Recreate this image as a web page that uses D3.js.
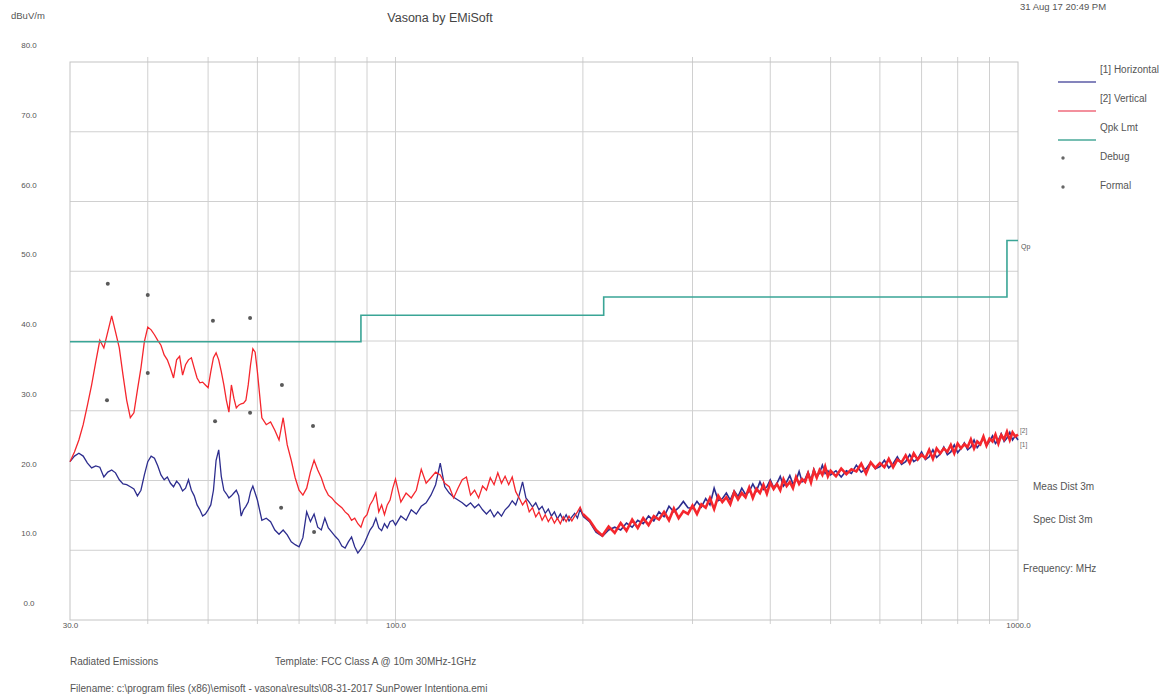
<!DOCTYPE html>
<html>
<head>
<meta charset="utf-8">
<script src="https://cdn.jsdelivr.net/npm/d3@7"></script>
<style>
body { margin: 0; background: #fff; }
text { font-family: "Liberation Sans", Arial, sans-serif; }
</style>
</head>
<body>
<div id="chart"></div>
<script>
// sweep points in MHz, shared by both antenna polarisations
var freqs = [
    30, 30.5, 31, 31.5, 32, 32.5, 33, 33.5, 34, 34.5, 35, 35.5, 36, 36.5, 37, 37.5, 38, 38.5, 39, 39.5, 40,
    40.5, 41, 41.5, 42, 42.5, 43, 43.5, 44, 44.5, 45, 45.5, 46, 46.5, 47, 47.5, 48, 48.5, 49, 49.5, 50,
    50.5, 51, 51.5, 52, 52.5, 53, 53.5, 54, 54.5, 55, 55.5, 56, 56.5, 57, 57.5, 58, 58.5, 59, 59.5, 60,
    61, 62, 63, 64, 65, 66, 67, 68, 69, 70, 71, 72, 73, 74, 75, 76, 77, 78, 79, 80,
    81, 82, 83, 84, 85, 86, 87, 88, 89, 90, 91, 92, 93, 94, 95, 96, 97, 98, 99, 100,
    102, 104, 106, 108, 110, 112, 114, 116, 118, 120, 122, 124, 126, 128, 130, 132, 134, 136, 138, 140,
    142, 144, 146, 148, 150, 152, 154, 156, 158, 160, 162, 164, 166, 168, 170, 172, 174, 176, 178, 180,
    182, 184, 186, 188, 190, 192, 194, 196, 198, 200,
    205, 210, 215, 220, 225, 230, 235, 240, 245, 250, 255, 260, 265, 270, 275, 280, 285, 290, 295, 300,
    305, 310, 315, 320, 325, 330, 335, 340, 345, 350, 355, 360, 365, 370, 375, 380, 385, 390, 395, 400,
    405, 410, 415, 420, 425, 430, 435, 440, 445, 450, 455, 460, 465, 470, 475, 480, 485, 490, 495, 500,
    510, 520, 530, 540, 550, 560, 570, 580, 590, 600, 610, 620, 630, 640, 650, 660, 670, 680, 690, 700,
    710, 720, 730, 740, 750, 760, 770, 780, 790, 800, 810, 820, 830, 840, 850, 860, 870, 880, 890, 900,
    910, 920, 930, 940, 950, 960, 970, 980, 990, 1000
];

// [1] Horizontal, dBuV/m
var horizontal = [
    22.7, 23.5, 23.9, 23.5, 22.5, 21.8, 22.1, 21.9, 20.5, 21.2, 21.5, 21.1, 20.1, 19.5, 19.4, 19.1, 18.8, 17.8, 18.6, 20.8, 22.7,
    23.5, 23.2, 22.1, 20.8, 20.1, 20.5, 19.6, 19.1, 19.9, 19.4, 18.5, 18.9, 20.1, 18.6, 17.8, 16.5, 15.8, 14.9, 15.2, 15.8,
    16.5, 18.6, 22.9, 24.4, 20.6, 18.6, 18.1, 17.5, 17.8, 18.2, 18.6, 17.8, 14.9, 15.8, 16.3, 16.9, 18.4, 19.2, 18.2, 17.2,
    14.3, 14.6, 14.1, 12.9, 12.3, 12.9, 12.2, 11.2, 10.8, 10.5, 11.8, 15.5, 14.1, 15.2, 13.3, 12.9, 14.6, 13.2, 12.6, 12.0,
    11.5, 10.6, 10.3, 11.2, 11.9, 10.5, 9.6, 10.2, 10.9, 11.9, 12.9, 13.5, 14.6, 13.2, 12.8, 13.8, 13.2, 14.1, 14.3, 13.6,
    14.9, 14.3, 15.8, 15.2, 16.3, 16.8, 17.9, 19.4, 22.5, 19.1, 18.2, 17.6, 17.2, 16.8, 16.3, 16.8, 16.1, 16.6, 15.8, 15.2,
    15.8, 14.8, 15.5, 14.9, 15.8, 16.3, 17.1, 16.5, 17.9, 19.8, 17.5, 16.9, 16.2, 16.8, 15.8, 16.3, 15.3, 15.9, 14.9, 15.5,
    14.5, 15.2, 14.3, 15.1, 14.2, 14.8, 15.3, 14.6, 15.9, 14.9,
    14.1, 12.6, 12.0, 12.9, 13.3, 12.9, 13.9, 13.3, 14.3, 13.8, 14.9, 14.2, 15.5, 14.8, 16.3, 15.5, 16.1, 17.0, 16.1, 16.0,
    17.0, 16.2, 17.4, 16.5, 18.9, 17.1, 17.4, 18.2, 17.2, 18.5, 17.7, 18.9, 18.0, 18.4, 19.5, 18.5, 19.8, 18.7, 19.1, 20.1,
    19.0, 19.6, 20.6, 19.2, 19.8, 20.7, 19.5, 20.0, 21.3, 19.8, 20.2, 21.2, 20.1, 21.6, 20.5, 21.1, 22.2, 21.0, 21.4, 20.8,
    21.4, 20.5, 21.4, 21.0, 22.2, 21.2, 21.7, 22.6, 21.7, 22.0, 22.9, 21.8, 22.4, 23.4, 22.3, 22.7, 23.7, 22.7, 23.1, 24.1,
    23.0, 23.4, 24.4, 23.3, 23.8, 24.8, 23.7, 24.1, 25.1, 24.0, 24.6, 25.4, 24.4, 24.8, 25.8, 24.7, 25.3, 26.1, 25.0, 25.6,
    26.4, 25.3, 25.8, 26.7, 25.6, 26.1, 26.9, 25.8, 26.4, 25.8
];

// [2] Vertical, dBuV/m
var vertical = [
    22.7, 24.1, 25.8, 28.0, 30.8, 33.7, 37.0, 40.1, 39.0, 41.3, 43.6, 41.3, 39.0, 35.1, 31.5, 29.0, 29.7, 33.0, 36.1, 39.9, 42.0,
    41.6, 40.9, 40.1, 39.4, 38.0, 37.3, 36.1, 34.7, 37.3, 37.8, 35.1, 36.6, 37.3, 37.6, 36.1, 34.7, 34.0, 34.1, 33.7, 33.3,
    35.6, 37.6, 38.3, 37.3, 35.6, 33.7, 31.5, 29.8, 33.7, 31.8, 30.4, 30.8, 31.0, 31.1, 31.5, 33.7, 36.6, 38.9, 38.4, 35.6,
    29.0, 28.0, 28.4, 27.2, 25.8, 29.0, 25.1, 22.9, 20.4, 18.6, 17.9, 18.9, 21.2, 22.9, 21.5, 20.4, 18.9, 17.9, 17.5, 16.9,
    16.5, 16.1, 15.5, 15.1, 14.3, 14.6, 13.8, 13.3, 14.6, 15.1, 16.5, 17.2, 18.2, 15.5, 16.5, 15.1, 16.5, 17.2, 18.9, 20.2,
    16.9, 18.2, 17.5, 18.6, 21.6, 19.6, 20.4, 21.2, 20.8, 19.6, 19.1, 17.5, 18.9, 20.1, 20.5, 17.9, 18.6, 17.5, 19.2, 18.6,
    20.4, 19.4, 21.1, 19.6, 20.6, 19.4, 20.5, 18.4, 17.5, 16.5, 17.2, 15.5, 16.1, 14.8, 15.5, 14.3, 15.1, 14.1, 14.8, 13.9,
    14.6, 13.8, 14.8, 14.1, 14.9, 14.2, 14.9, 15.5, 16.2, 15.2,
    14.3, 12.9, 12.1, 13.4, 12.5, 13.9, 12.8, 14.4, 13.2, 14.6, 13.6, 14.9, 14.4, 15.5, 14.3, 16.0, 14.6, 15.6, 15.2, 16.4,
    15.2, 16.6, 16.1, 17.5, 15.9, 17.8, 16.9, 17.6, 16.6, 18.3, 17.3, 18.2, 17.6, 19.0, 17.5, 18.8, 18.2, 19.4, 18.1, 19.7,
    18.8, 19.5, 18.6, 20.2, 19.2, 19.8, 18.9, 20.5, 19.5, 20.2, 19.8, 21.0, 19.7, 21.4, 20.4, 21.5, 20.8, 22.0, 20.6, 21.4,
    20.6, 21.7, 20.9, 21.6, 21.3, 22.4, 21.0, 22.6, 21.8, 22.5, 21.9, 23.1, 21.9, 23.0, 22.6, 23.6, 22.5, 23.9, 23.0, 23.7,
    23.2, 24.4, 23.1, 24.6, 23.9, 24.6, 24.1, 25.1, 23.9, 25.3, 24.6, 25.2, 24.8, 25.9, 24.6, 25.6, 25.2, 26.3, 25.0, 26.0,
    25.6, 26.6, 25.3, 26.5, 25.9, 27.0, 25.8, 26.9, 26.3, 26.6
];

// Qpk limit, step starts
var limitEdges = [30, 88, 216, 960, 1000];
var limitLevels = [39.9, 43.7, 46.3, 54.4, 54.4];

var debugFreqs = [34.5, 40.0, 50.9, 58.4, 65.7, 73.7];
var debugLevels = [48.2, 46.6, 42.9, 43.3, 33.7, 27.8];
var formalFreqs = [34.4, 40.0, 51.3, 58.4, 65.5, 74.0];
var formalLevels = [31.5, 35.4, 28.5, 29.7, 16.1, 12.6];

var yTicks = [0, 10, 20, 30, 40, 50, 60, 70, 80];
var xLabels = [30, 100, 1000];
var xGrid = [40, 50, 60, 70, 80, 90, 100, 200, 300, 400, 500, 600, 700, 800, 900];

var svgWidth = 1168;
var svgHeight = 696;

var margin = {
    top: 62,
    right: 150,
    bottom: 76,
    left: 70
};

var width = svgWidth - margin.left - margin.right;
var height = svgHeight - margin.top - margin.bottom;

var svg = d3.select("#chart")
    .append("svg")
    .attr("width", svgWidth)
    .attr("height", svgHeight)
    .style("background", "#fff");

var chartGroup = svg.append("g")
    .attr("transform", `translate(${margin.left}, ${margin.top})`);

var xLogScale = d3.scaleLog()
    .domain([30, 1000])
    .range([0, width]);

var yLinearScale = d3.scaleLinear()
    .domain([0, 80])
    .range([height, 0]);

// grid
chartGroup.selectAll(".hgrid")
    .data(yTicks.slice(1, -1))
    .enter()
    .append("line")
    .attr("x1", 0)
    .attr("x2", width)
    .attr("y1", d => yLinearScale(d))
    .attr("y2", d => yLinearScale(d))
    .attr("stroke", "#d0d0d0");

chartGroup.selectAll(".vgrid")
    .data(xGrid)
    .enter()
    .append("line")
    .attr("x1", d => xLogScale(d))
    .attr("x2", d => xLogScale(d))
    .attr("y1", -5)
    .attr("y2", height + 4)
    .attr("stroke", "#d0d0d0");

chartGroup.append("rect")
    .attr("width", width)
    .attr("height", height)
    .attr("fill", "none")
    .attr("stroke", "#c4c4c4");

// axes
var leftAxis = d3.axisLeft(yLinearScale)
    .tickValues(yTicks)
    .tickFormat(d3.format(".1f"))
    .tickSize(0)
    .tickPadding(0);

var yAxisGroup = chartGroup.append("g")
    .attr("transform", "translate(-41, 0)")
    .call(leftAxis);
yAxisGroup.select(".domain").remove();
yAxisGroup.selectAll("text")
    .attr("y", -17)
    .attr("text-anchor", "middle")
    .attr("fill", "#555")
    .style("font-size", "8px");

var bottomAxis = d3.axisBottom(xLogScale)
    .tickValues(xLabels)
    .tickFormat(d3.format(".1f"))
    .tickSize(0)
    .tickPadding(2);

var xAxisGroup = chartGroup.append("g")
    .attr("transform", `translate(0, ${height})`)
    .call(bottomAxis);
xAxisGroup.select(".domain").remove();
xAxisGroup.selectAll("text")
    .attr("fill", "#555")
    .style("font-size", "8px");

// traces: the dense sweep above 200 MHz reads as a thicker band
var traceLine = d3.line()
    .x(d => xLogScale(d[0]))
    .y(d => yLinearScale(d[1]));

var hPts = d3.zip(freqs, horizontal);
var vPts = d3.zip(freqs, vertical);

function drawTrace(pts, color, thin, thick) {
    chartGroup.append("path")
        .datum(pts.filter(d => d[0] <= 200))
        .attr("d", traceLine)
        .attr("fill", "none")
        .attr("stroke", color)
        .attr("stroke-width", thin);
    chartGroup.append("path")
        .datum(pts.filter(d => d[0] >= 200))
        .attr("d", traceLine)
        .attr("fill", "none")
        .attr("stroke", color)
        .attr("stroke-width", thick);
}

drawTrace(hPts, "#2d2d8e", 1.3, 1.6);
drawTrace(vPts, "#f5262d", 1.3, 2.6);

// limit
var stepLine = d3.line()
    .x(d => xLogScale(d[0]))
    .y(d => yLinearScale(d[1]))
    .curve(d3.curveStepAfter);

chartGroup.append("path")
    .datum(d3.zip(limitEdges, limitLevels))
    .attr("d", stepLine)
    .attr("fill", "none")
    .attr("stroke", "#3aa596")
    .attr("stroke-width", 1.6);

// markers
chartGroup.selectAll(".debug")
    .data(d3.zip(debugFreqs, debugLevels))
    .enter()
    .append("circle")
    .attr("cx", d => xLogScale(d[0]))
    .attr("cy", d => yLinearScale(d[1]))
    .attr("r", 2)
    .attr("fill", "#5a5a5a");

chartGroup.selectAll(".formal")
    .data(d3.zip(formalFreqs, formalLevels))
    .enter()
    .append("circle")
    .attr("cx", d => xLogScale(d[0]))
    .attr("cy", d => yLinearScale(d[1]))
    .attr("r", 2)
    .attr("fill", "#5a5a5a");

// end-of-trace tags
chartGroup.append("text")
    .attr("x", width + 3)
    .attr("y", yLinearScale(limitLevels[3]) + 8)
    .style("font-size", "7px")
    .attr("fill", "#555")
    .text("Qp");

chartGroup.append("text")
    .attr("x", width + 2)
    .attr("y", yLinearScale(vertical[vertical.length - 1]) - 1)
    .style("font-size", "6.5px")
    .attr("fill", "#666")
    .text("[2]");

chartGroup.append("text")
    .attr("x", width + 2)
    .attr("y", yLinearScale(horizontal[horizontal.length - 1]) + 7)
    .style("font-size", "6.5px")
    .attr("fill", "#666")
    .text("[1]");

// legend
var legendItems = [
    {label: "[1] Horizontal", color: "#5b5ba6", kind: "line"},
    {label: "[2] Vertical", color: "#ef6b7d", kind: "line"},
    {label: "Qpk Lmt", color: "#49a898", kind: "line"},
    {label: "Debug", color: "#666", kind: "dot"},
    {label: "Formal", color: "#666", kind: "dot"}
];

var legend = svg.append("g")
    .attr("transform", "translate(1058, 0)");

legend.selectAll(".legLine")
    .data(legendItems.filter(d => d.kind == "line"))
    .enter()
    .append("line")
    .attr("x1", 0)
    .attr("x2", 38)
    .attr("y1", (d, i) => 82 + i * 29)
    .attr("y2", (d, i) => 82 + i * 29)
    .attr("stroke", d => d.color)
    .attr("stroke-width", 1.6);

legend.selectAll(".legDot")
    .data(legendItems.filter(d => d.kind == "dot"))
    .enter()
    .append("circle")
    .attr("cx", 5)
    .attr("cy", (d, i) => 158 + i * 29)
    .attr("r", 1.7)
    .attr("fill", d => d.color);

legend.selectAll(".legText")
    .data(legendItems)
    .enter()
    .append("text")
    .attr("x", 42)
    .attr("y", (d, i) => 73 + i * 29)
    .style("font-size", "10px")
    .attr("fill", "#555")
    .text(d => d.label);

// header and footer text
svg.append("text")
    .attr("x", 440)
    .attr("y", 22)
    .attr("text-anchor", "middle")
    .style("font-size", "12.5px")
    .attr("fill", "#444")
    .text("Vasona by EMiSoft");

svg.append("text")
    .attr("x", 11)
    .attr("y", 19)
    .style("font-size", "9.5px")
    .attr("fill", "#555")
    .text("dBuV/m");

svg.append("text")
    .attr("x", 1020)
    .attr("y", 10)
    .style("font-size", "9.5px")
    .attr("fill", "#555")
    .text("31 Aug 17 20:49 PM");

var sideNotes = [
    {text: "Meas Dist 3m", x: 1033, y: 490},
    {text: "Spec Dist 3m", x: 1033, y: 523},
    {text: "Frequency: MHz", x: 1023, y: 572}
];

svg.selectAll(".side")
    .data(sideNotes)
    .enter()
    .append("text")
    .attr("x", d => d.x)
    .attr("y", d => d.y)
    .style("font-size", "10px")
    .attr("fill", "#555")
    .text(d => d.text);

svg.append("text")
    .attr("x", 70)
    .attr("y", 665)
    .style("font-size", "10px")
    .attr("fill", "#555")
    .text("Radiated Emissions");

svg.append("text")
    .attr("x", 275)
    .attr("y", 665)
    .style("font-size", "10px")
    .attr("fill", "#555")
    .text("Template: FCC Class A @ 10m 30MHz-1GHz");

svg.append("text")
    .attr("x", 70)
    .attr("y", 692)
    .style("font-size", "10px")
    .attr("fill", "#555")
    .text("Filename: c:\\program files (x86)\\emisoft - vasona\\results\\08-31-2017 SunPower Intentiona.emi");
</script>
</body>
</html>
